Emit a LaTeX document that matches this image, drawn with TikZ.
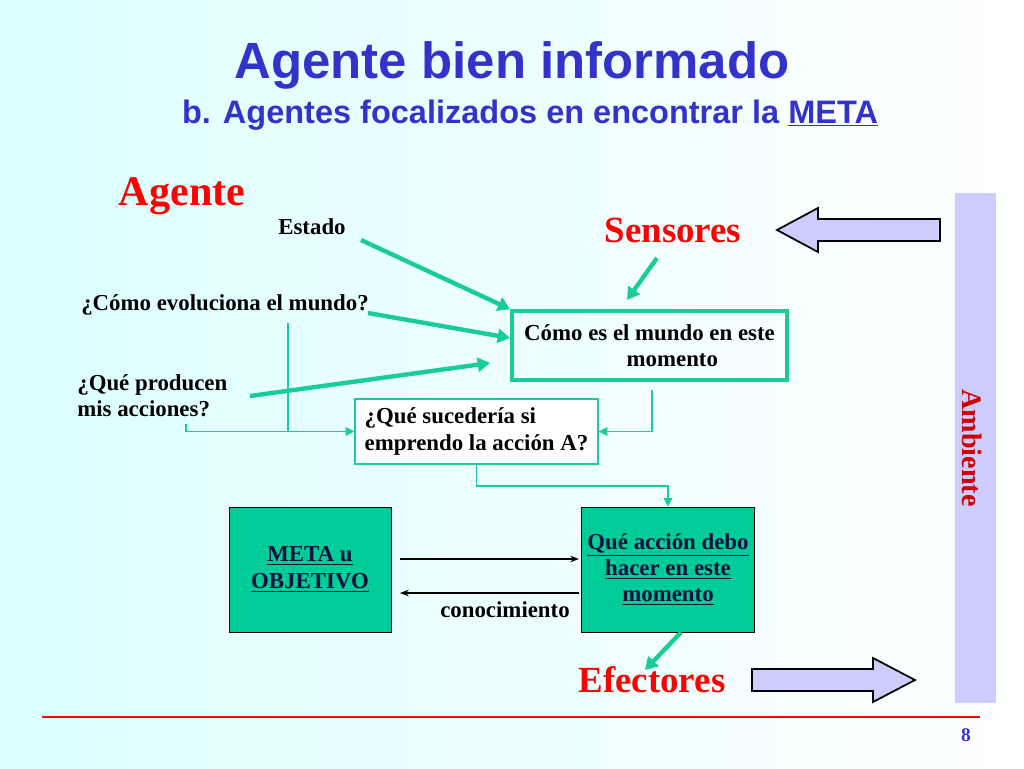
\documentclass[tikz,border=0pt]{standalone}
\usepackage{fontspec}
\setmainfont{Liberation Serif}
\newfontfamily\titlefont{Liberation Sans}
\usepackage{tikz}
\usetikzlibrary{arrows.meta}

\definecolor{titleblue}{RGB}{51,51,204}
\definecolor{tealgreen}{RGB}{0,204,153}
\definecolor{lineteal}{RGB}{26,204,153}
\definecolor{lavender}{RGB}{204,204,255}

\begin{document}
\begin{tikzpicture}[x=0.02cm,y=-0.02cm,
  thickarrow/.style={line width=2.5pt,lineteal,-{Triangle[length=7pt,width=8pt]}},
  thinline/.style={line width=0.8pt,lineteal},
  thinarrow/.style={thinline,-{Triangle[length=5pt,width=5pt]}},
  blackarrow/.style={line width=0.8pt,black,-{Stealth[length=5pt]}},
  bigarrow/.style={draw=black,line width=1pt,fill=lavender},
  lbl/.style={font=\bfseries\fontsize{13}{15}\selectfont,align=left},
  redlbl/.style={text=red,font=\bfseries\fontsize{21}{24}\selectfont}]
% background
\shade[left color=cyan!14!white,right color=white] (0,0) rectangle (1024,768);
\useasboundingbox (0,0) rectangle (1024,768);

% titles
\node[text=titleblue,font=\titlefont\bfseries\fontsize{29}{32}\selectfont] (title) at (512,65) {Agente bien informado};
\node[text=titleblue,font=\titlefont\bfseries\fontsize{18.5}{22}\selectfont] (subtitle) at (530,115) {b. Agentes focalizados en encontrar la \underline{META}};

% side column
\fill[lavender] (955,193) rectangle (996,703);
\node[rotate=-90,text=red!80!black,font=\bfseries\fontsize{16}{18}\selectfont] (amb) at (972,448) {Ambiente};

% labels
\node[text=red,font=\bfseries\fontsize{24}{26}\selectfont] (agente) at (182,196) {Agente};
\node[lbl] (estado) at (312,227) {Estado};
\node[redlbl] (sensores) at (673,230) {Sensores};
\node[lbl] (evol) at (225,305) {¿Cómo evoluciona el mundo?};
\node[lbl,anchor=west,inner sep=0pt] (prod) at (77,396) {¿Qué producen\\mis acciones?};
\node[redlbl] (efectores) at (652,680) {Efectores};

% boxes
\node[draw=lineteal,line width=2pt,minimum width=275*0.02cm,minimum height=69*0.02cm,lbl,align=center] (mundo) at (649.5,345.5) {Cómo es el mundo en este\\\hspace*{2em}momento};
\node[draw=lineteal,line width=0.8pt,fill=white,minimum width=243*0.02cm,minimum height=65*0.02cm,lbl,align=left] (suceder) at (476.5,431.5) {¿Qué sucedería si\\emprendo la acción A?};
\node[draw=black,fill=tealgreen,minimum width=162*0.02cm,minimum height=125*0.02cm,lbl,align=center,text=titleblue!30!black] (meta) at (310,569.5) {\underline{META u}\\\underline{OBJETIVO}};
\node[draw=black,fill=tealgreen,minimum width=164*0.02cm,minimum height=125*0.02cm,lbl,align=center,text=titleblue!30!black] (accion) at (668,569.5) {\underline{Qué acción debo}\\\underline{hacer en este}\\\underline{momento}};
\node[lbl] (conoc) at (505,610) {conocimiento};

% hollow arrows
\draw[bigarrow] (940,219) -- (818,219) -- (818,208) -- (777,230) -- (818,252) -- (818,241) -- (940,241) -- cycle;
\draw[bigarrow] (752,669) -- (873,669) -- (873,658) -- (915,680) -- (873,702) -- (873,691) -- (752,691) -- cycle;

% thick arrows
\draw[thickarrow] (361,240) -- (mundo.north west);
\draw[thickarrow] (657,258) -- (627,300);
\draw[thickarrow] (368,313) -- (510,338);
\draw[thickarrow] (250,396) -- (490,363);
\draw[thickarrow] (accion.south) ++(13,0) -- (645,670);

% thin connectors
\coordinate (join) at (288,432);
\draw[thinline] (288,323) -- (join);
\draw[thinarrow] (186,424) |- (suceder.west);
\draw[thinarrow] (652,390) |- (suceder.east);
\draw[thinarrow] (suceder.south) |- (668,486) -- (accion.north);

% black arrows
\draw[blackarrow] (400,559) -- (579,559);
\draw[blackarrow] (579,593) -- (400,593);

% footer
\draw[red,line width=0.8pt] (42,717) -- (980,717);
\node[text=titleblue,font=\bfseries\fontsize{11}{13}\selectfont] (page) at (966,735) {8};
\end{tikzpicture}
\end{document}
